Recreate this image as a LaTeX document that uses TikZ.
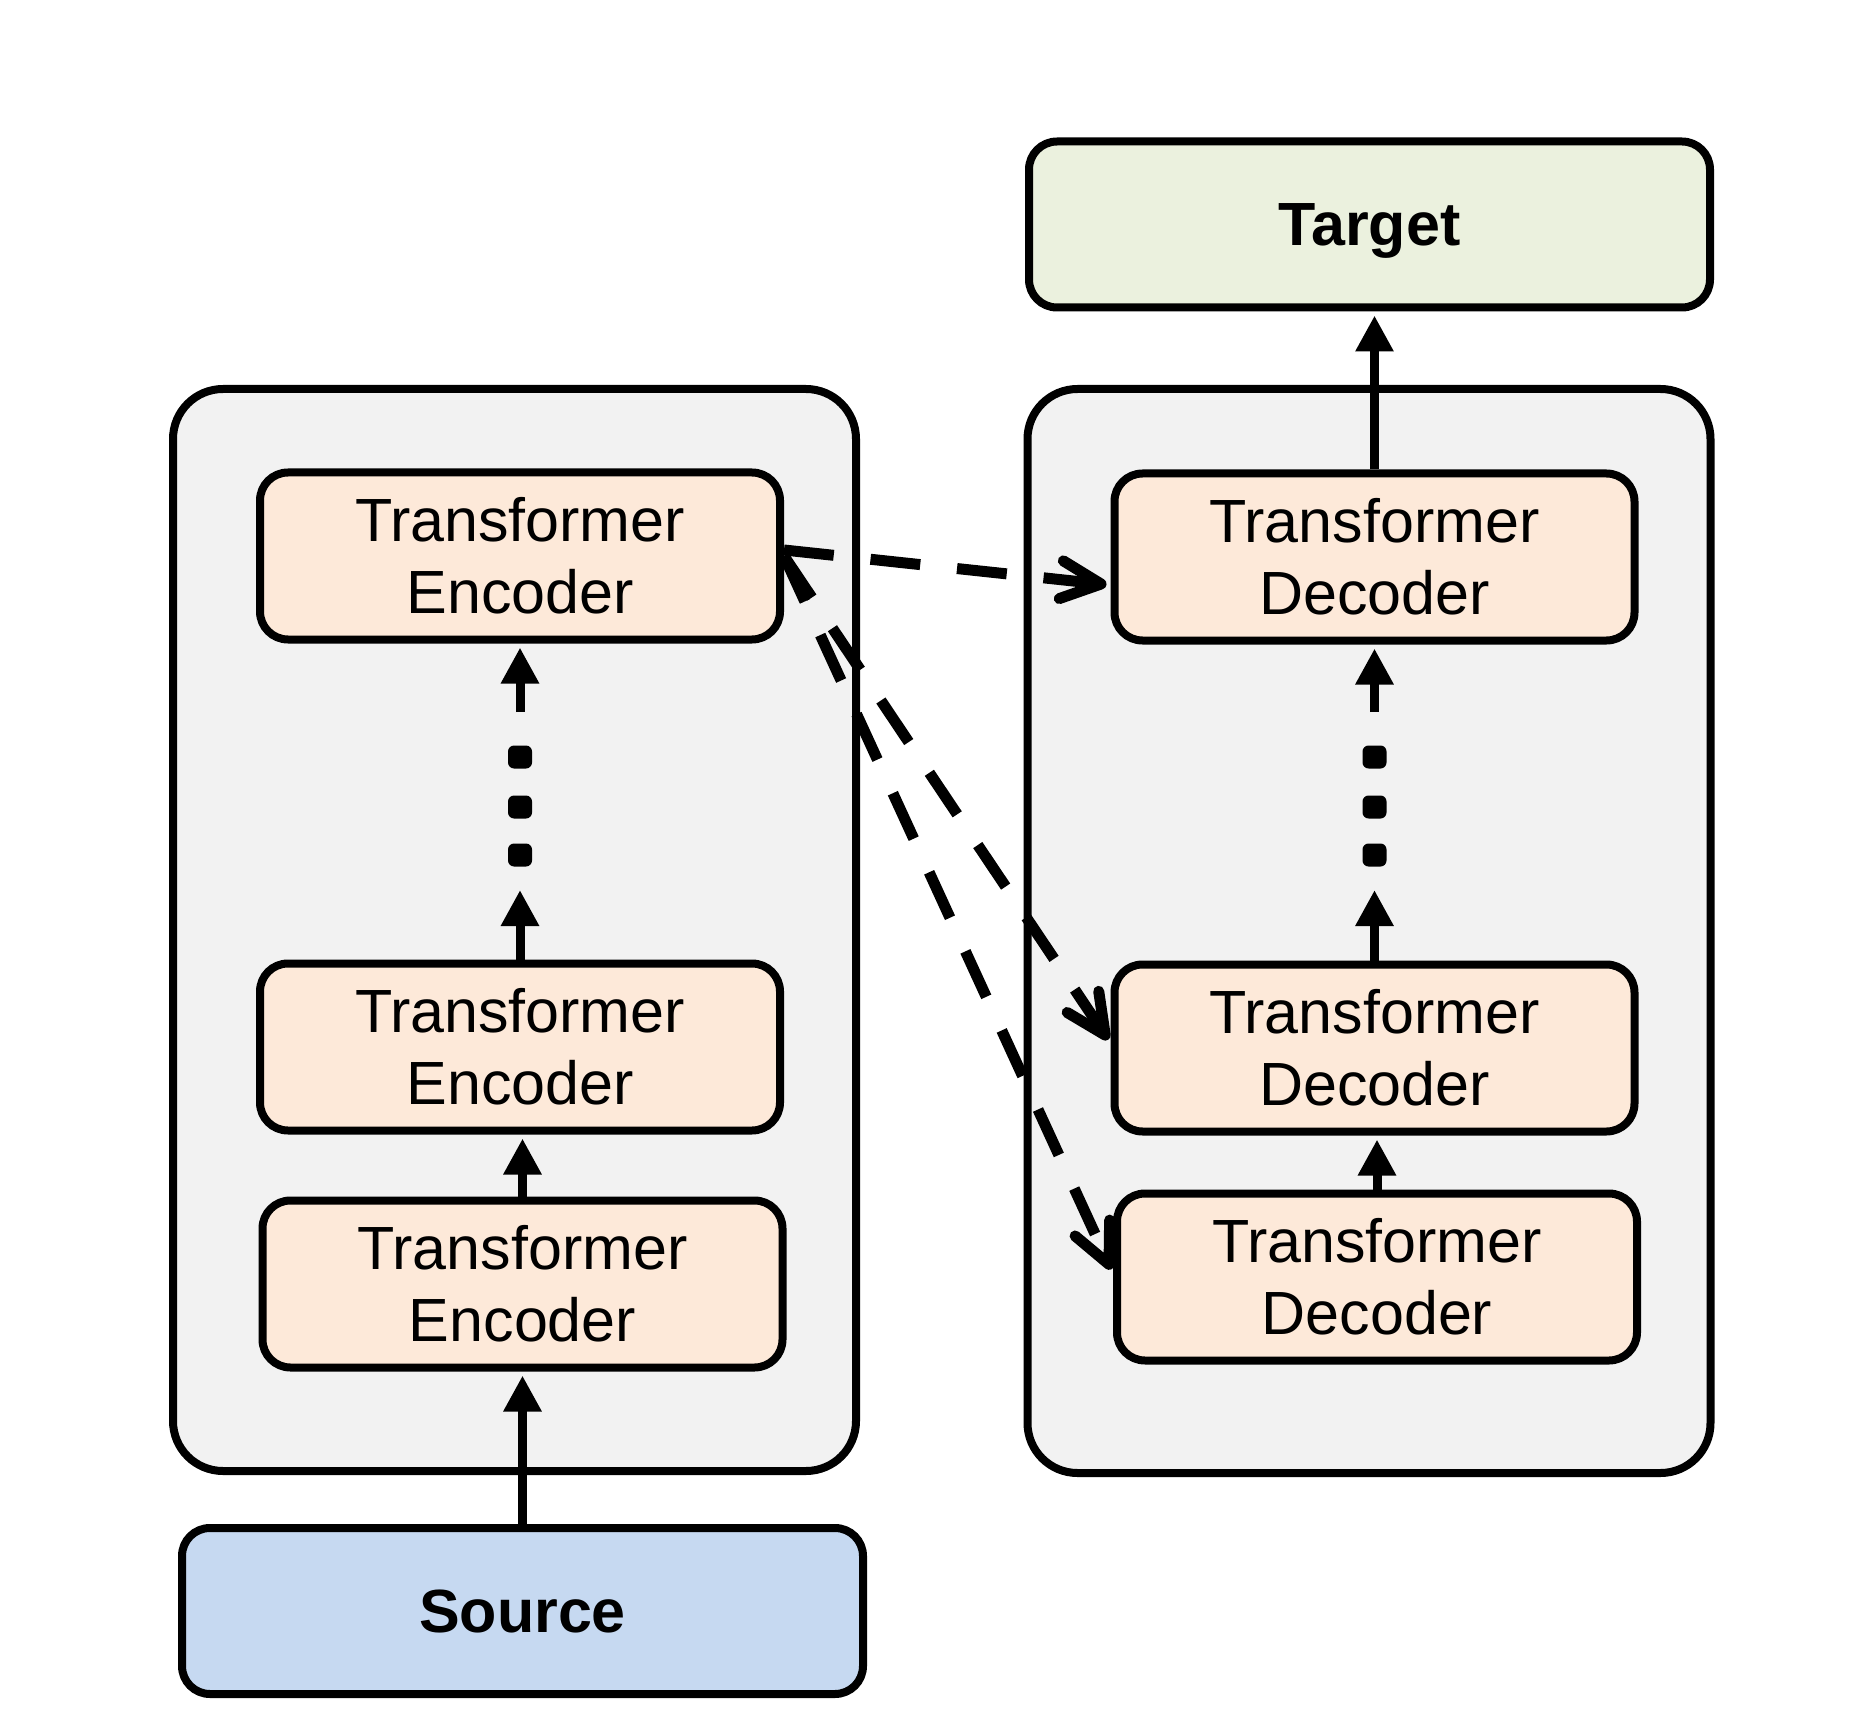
\documentclass[tikz,border=0pt]{standalone}
\usepackage{fontspec}
\setmainfont{Liberation Sans}
\usetikzlibrary{arrows.meta}
\definecolor{boxfill}{HTML}{FDE9D9}
\definecolor{contfill}{HTML}{F2F2F2}
\definecolor{tgtfill}{HTML}{EBF1DE}
\definecolor{srcfill}{HTML}{C6D9F1}
\begin{document}
\begin{tikzpicture}[x=0.5pt,y=-0.5pt,
  container/.style={draw, line width=4pt, fill=contfill, rounded corners=25pt, minimum width=341.5pt, minimum height=541pt, inner sep=0pt},
  block/.style={draw, line width=4pt, fill=boxfill, rounded corners=14pt, minimum width=260pt, minimum height=83.5pt, align=center, inner sep=0pt, font=\fontsize{30.5}{36}\selectfont},
  io/.style={draw, line width=4pt, rounded corners=14pt, minimum width=340.5pt, minimum height=83pt, inner sep=0pt, text depth=0pt, font=\fontsize{30.5}{36}\selectfont\bfseries},
  flow/.style={line width=4.5pt, -{Triangle[length=18pt,width=18pt]}},
  flowto/.style={flow, shorten >=2pt},
  skip/.style={line width=5.5pt, dash pattern=on 25pt off 18.5pt, -{Straight Barb[length=20pt,width=19pt,round]}, shorten >=2pt},
  ellipsisdot/.style={fill=black, rounded corners=3pt, minimum width=12pt, minimum height=11.5pt, inner sep=0pt}
]
\useasboundingbox (0,0) rectangle (1875,1733);

\node[container] (lcont) at (514.5,930) {};
\node[container, minimum height=542pt] (rcont) at (1369,931) {};

\node[io, fill=tgtfill] (target) at (1369.5,224.5) {Target};
\node[io, fill=srcfill] (source) at (522.5,1611) {Source};

\node[block] (enctop) at (520,556) {Transformer\\Encoder};
\node[block] (encmid) at (520,1047) {Transformer\\Encoder};
\node[block] (encbot) at (522.5,1284) {Transformer\\Encoder};

\node[block] (dectop) at (1374.5,557) {Transformer\\Decoder};
\node[block] (decmid) at (1374.5,1048) {Transformer\\Decoder};
\node[block] (decbot) at (1377,1277) {Transformer\\Decoder};

\node[ellipsisdot] (ed1) at (520,757) {};
\node[ellipsisdot] (ed2) at (520,807) {};
\node[ellipsisdot] (ed3) at (520,855) {};
\node[ellipsisdot] (dd1) at (1374.5,757) {};
\node[ellipsisdot] (dd2) at (1374.5,807) {};
\node[ellipsisdot] (dd3) at (1374.5,855) {};

\coordinate (ea1) at (520,890);
\coordinate (ea2) at (520,712);
\coordinate (da1) at (1374.5,890);
\coordinate (da2) at (1374.5,712);

\draw[flowto] (source.north) -- (encbot.south);
\draw[flowto] (encbot.north) -- (encbot.north |- encmid.south);
\draw[flow] (encmid.north) -- (ea1);
\draw[flowto] (ea2) -- (enctop.south);

\draw[flowto] (decbot.north) -- (decbot.north |- decmid.south);
\draw[flow] (decmid.north) -- (da1);
\draw[flowto] (da2) -- (dectop.south);
\draw[flowto] (dectop.north) -- (dectop.north |- target.south);

\draw[skip] ([yshift=3pt]enctop.east) -- ([yshift=-14pt]dectop.west);
\draw[skip] (enctop.east) -- ([yshift=2.5pt]decmid.west);
\draw[skip] (enctop.east) -- ([yshift=2pt]decbot.west);
\end{tikzpicture}
\end{document}
